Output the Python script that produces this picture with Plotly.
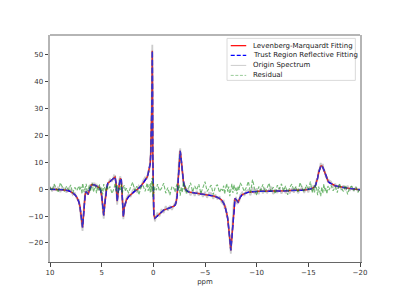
import plotly.graph_objects as go

# chemical shift (ppm), descending
ppm = [
    10.0, 9.8, 9.6, 9.4, 9.2, 9.0, 8.8, 8.6, 8.4, 8.2, 8.0, 7.8, 7.6, 7.4,
    7.2, 7.1, 7.0, 6.9, 6.85, 6.8, 6.7, 6.6, 6.5, 6.4,
    6.3, 6.2, 6.1, 6.0, 5.9, 5.8, 5.7, 5.6, 5.5, 5.4, 5.3, 5.2, 5.1, 5.0, 4.9, 4.8, 4.7, 4.6, 4.5, 4.4,
    4.2, 4.0, 3.8, 3.7, 3.6, 3.5, 3.4, 3.3, 3.2, 3.1, 3.0, 2.9, 2.8, 2.7, 2.6,
    2.4, 2.2, 2.0, 1.8, 1.6, 1.4, 1.2, 1.0, 0.8, 0.6,
    0.5, 0.4, 0.3, 0.25, 0.2, 0.15, 0.12, 0.1, 0.08, 0.05, 0.02, -0.05, -0.15, -0.3,
    -0.4, -0.6, -0.8, -1.0, -1.2, -1.4, -1.6, -1.8, -2.0,
    -2.1, -2.2, -2.3, -2.4, -2.5, -2.6, -2.7, -2.8, -2.9, -3.0, -3.1, -3.2,
    -3.4, -3.6, -3.8, -4.0, -4.2, -4.4, -4.6, -4.8, -5.0, -5.2, -5.4, -5.6, -5.8, -6.0, -6.2, -6.4, -6.6,
    -6.7, -6.8, -6.9, -7.0, -7.1, -7.2, -7.3, -7.4, -7.5, -7.6, -7.7, -7.8, -7.9, -8.0, -8.1, -8.2, -8.3, -8.4,
    -8.6, -8.8, -9.0, -9.2, -9.4, -9.6, -9.8, -10.0, -10.2, -10.4, -10.6, -10.8, -11.0, -11.2, -11.4, -11.6, -11.8,
    -12.0, -12.2, -12.4, -12.6, -12.8, -13.0, -13.2, -13.4, -13.6, -13.8, -14.0, -14.2, -14.4, -14.6, -14.8, -15.0, -15.2, -15.4,
    -15.5, -15.6, -15.7, -15.8, -15.9, -16.0, -16.1, -16.2, -16.3, -16.4, -16.5, -16.6, -16.7, -16.8, -16.9, -17.0,
    -17.2, -17.4, -17.6, -17.8, -18.0, -18.2, -18.4, -18.6, -18.8, -19.0, -19.2, -19.4, -19.6, -19.8, -20.0,
]

lm_fit = [
    0.0, 0.0, -0.1, -0.1, -0.1, -0.2, -0.2, -0.3, -0.4, -0.6, -0.9, -1.3, -2.0, -3.0,
    -4.8, -6.5, -9.0, -12.5, -14.2, -12.0, -5.0, -2.0, -0.9, -1.3,
    -1.9, -0.5, 1.0, 1.6, 1.7, 1.7, 1.6, 1.4, 1.2, 1.0, 0.7, 0.4, -0.5, -2.5, -6.0, -9.8, -5.5, -1.5, 0.8, 2.2,
    3.0, 3.5, 4.2, 4.5, 2.0, -4.5, -1.0, 2.5, 4.0, 3.5, -2.0, -10.2, -6.5, -4.8, -4.0,
    -2.8, -2.0, -1.3, -0.7, -0.3, 0.4, 1.2, 2.2, 3.2, 4.5,
    5.8, 7.2, 9.5, 13.0, 19.0, 30.0, 42.0, 51.5, 38.0, 12.0, -4.0, -9.5, -10.8, -10.3,
    -9.8, -9.0, -8.3, -7.8, -7.5, -7.2, -7.0, -6.8, -6.3,
    -5.9, -5.0, -2.5, 3.5, 11.0, 14.3, 11.0, 6.5, 3.2, 1.2, 0.0, -0.5,
    -1.0, -1.2, -1.3, -1.4, -1.5, -1.6, -1.7, -1.8, -1.9, -2.0, -2.1, -2.3, -2.5, -2.7, -3.0, -3.4, -4.0,
    -4.5, -5.2, -6.0, -7.2, -8.9, -11.0, -14.0, -18.5, -22.8, -18.0, -10.5, -5.5, -3.5, -3.8, -4.5, -4.8, -4.0, -3.0,
    -2.0, -1.6, -1.3, -1.1, -1.0, -0.9, -0.9, -0.8, -0.8, -0.8, -0.8, -0.7, -0.7, -0.7, -0.7, -0.7, -0.7,
    -0.6, -0.6, -0.6, -0.6, -0.6, -0.6, -0.5, -0.5, -0.5, -0.5, -0.4, -0.4, -0.3, -0.3, -0.2, -0.1, 0.1, 0.4,
    0.6, 0.9, 1.5, 2.6, 4.2, 6.2, 7.8, 8.6, 8.7, 8.2, 7.2, 6.0, 4.9, 3.9, 3.1, 2.5,
    2.0, 1.6, 1.3, 1.1, 0.9, 0.7, 0.6, 0.5, 0.4, 0.3, 0.2, 0.1, 0.0, -0.1, -0.2,
]

trf_fit = list(lm_fit)

origin = [
    1.0, -0.8, 1.5, -0.6, 0.9, -1.1, 0.6, 0.2, -1.3, 0.4, -0.2, -2.1, -1.2, -3.6,
    -4.0, -7.3, -8.2, -13.6, -15.5, -10.8, -5.9, -1.2, 0.2, -2.1,
    -1.0, -1.3, 1.8, 0.9, 2.5, 1.0, 2.4, 0.7, 2.0, 0.3, 1.5, -0.4, 0.4, -3.2, -5.1, -11.0, -4.6, -2.3, 1.6, 1.4,
    3.9, 2.8, 5.2, 5.0, 1.1, -5.8, -0.3, 3.5, 4.8, 2.6, -3.1, -11.2, -5.6, -5.7, -3.3,
    -1.9, -2.9, -0.5, 0.4, -1.2, 1.3, 0.6, 3.1, 4.4, 3.8,
    6.6, 6.3, 10.6, 14.2, 20.5, 32.0, 44.5, 53.8, 40.0, 14.5, -6.0, -8.4, -12.0, -9.6,
    -8.7, -10.1, -7.4, -8.9, -6.3, -8.0, -6.2, -7.7, -5.4,
    -5.0, -5.8, -1.6, 4.7, 12.2, 15.2, 10.1, 7.4, 2.5, 2.0, -0.9, 0.3,
    -0.2, -2.3, -0.4, -2.5, -0.6, -2.4, -0.8, -2.9, -1.0, -3.2, -1.3, -1.5, -3.6, -1.9, -3.8, -2.6, -4.9,
    -5.3, -4.0, -7.1, -6.4, -9.9, -10.2, -15.1, -17.6, -24.0, -16.8, -11.6, -4.3, -4.4, -2.9, -5.6, -3.9, -4.9, -2.2,
    -1.2, -2.5, -0.6, -0.2, -2.3, 0.8, -1.8, 0.3, -1.9, 0.5, -1.6, 0.4, -1.5, -0.1, 0.6, -1.8, -0.3,
    -1.4, 0.5, -1.7, 0.2, -1.5, -0.1, -1.6, 0.4, -1.3, 0.6, -1.5, -0.2, 0.7, -1.4, 0.5, -1.2, 0.9, -0.5,
    1.5, 0.0, 2.3, 3.5, 3.6, 7.1, 7.6, 9.8, 8.1, 9.4, 6.5, 6.9, 4.2, 4.8, 2.4, 3.3,
    2.8, 0.7, 2.1, 0.2, 1.8, -0.3, 1.4, -0.4, 1.3, -0.6, 1.0, -0.7, 0.9, -0.8, 0.4,
]

residual = [
    0.8, -0.6, 1.9, 0.3, -1.2, 2.4, 0.5, -0.9, 1.1, -0.3, 1.6, -1.4, 0.7, -0.5,
    1.2, -0.4, 0.9, -1.8, 2.2, 1.5, -1.1, 0.6, 2.0, -0.7,
    -0.3, 1.4, -0.8, 0.5, 2.1, -1.0, 0.2, 1.3, -1.5, 0.9, -0.4, 1.8, -1.2, 0.6, -2.0, 1.9, 0.4, -0.9, 1.2, -0.2,
    1.0, -1.6, 0.3, 2.3, -0.8, 1.7, -1.3, 0.5, -0.6, 2.0, -1.7, 0.9, 1.4, -0.9, 0.4,
    -1.4, 0.8, 2.6, -0.5, 1.1, -2.1, 0.7, 1.5, -0.8, 2.3,
    -0.6, 1.8, -1.2, 2.5, -0.9, 3.8, -2.5, 1.5, 4.2, -3.0, 2.1, -1.6, 0.8, -0.4,
    1.9, -0.7, 0.4, 2.2, -1.5, 0.6, -2.2, 1.0, 0.3,
    -1.1, 0.9, 2.0, -0.6, 1.6, -2.4, 0.8, -1.3, 2.7, -0.2, 1.4, -1.9,
    0.5, 2.4, -0.9, 1.2, -0.3, 1.9, -1.6, 0.7, 2.8, -0.8, 0.2, 1.5, -2.0, 0.9, 1.7, -1.2, 0.4,
    -0.6, 1.3, -1.8, 0.4, 2.1, -0.9, 1.0, -2.6, 0.6, 2.0, -1.4, 1.7, -0.5, 0.9, -1.9, 1.2, -0.3, 2.4,
    1.1, -0.8, 0.6, 2.9, -1.4, 3.6, 0.2, -2.3, 1.0, -0.5, 1.8, -1.1, 0.4, 2.2, -0.9, 0.8, -1.7,
    1.5, 0.1, 2.0, -0.6, 1.2, -2.1, 0.7, 1.9, -0.4, 1.0, -1.3, 2.5, 0.3, -0.9, 1.6, -0.2, 2.8, -1.5,
    0.9, -1.2, 1.6, 0.3, -2.2, 1.0, -0.4, -2.6, 0.8, -1.5, 1.9, -0.7, 0.5, -1.8, 1.2, -0.3,
    1.4, -0.6, 0.9, -1.3, 2.0, 0.2, -0.8, 1.5, -1.9, 0.6, 1.1, -0.5, 0.8, -1.2, 0.3,
]

series_names = ["Levenberg-Marquardt Fitting", "Trust Region Reflective Fitting",
                "Origin Spectrum", "Residual"]
x_ticks = [10, 5, 0, -5, -10, -15, -20]
y_ticks = [-20, -10, 0, 10, 20, 30, 40, 50]

FONT = "DejaVu Sans"
styles = [
    dict(color="#ff0000", width=1.5, dash="solid"),
    dict(color="#0000ff", width=1.5, dash="5.5px,2.4px"),
    dict(color="rgba(128,128,128,0.4)", width=1.8, dash="solid"),
    dict(color="rgba(0,128,0,0.55)", width=1.1, dash="3.7px,1.6px"),
]
legend_styles = [
    dict(color="#ff0000", width=1.2, dash="solid"),
    dict(color="#0000ff", width=1.2, dash="4px,2px"),
    dict(color="rgba(128,128,128,0.5)", width=0.8, dash="solid"),
    dict(color="rgba(0,128,0,0.5)", width=0.8, dash="3px,1.6px"),
]

fig = go.Figure()
for name, ys, st in zip(series_names, [lm_fit, trf_fit, origin, residual], styles):
    fig.add_trace(go.Scatter(x=ppm, y=ys, mode="lines", name=name, line=st,
                             showlegend=False))

axis_common = dict(showgrid=False, zeroline=False, ticks="outside", ticklen=3.5,
                   tickwidth=0.8, tickcolor="#444",
                   tickfont=dict(family=FONT, size=7, color="#333"))
fig.update_xaxes(range=[10, -20], tickvals=x_ticks,
                 ticktext=[str(v).replace("-", "\u2212") for v in x_ticks],
                 showline=True, linecolor="#666", linewidth=1, mirror=False,
                 title=dict(text="ppm", font=dict(family=FONT, size=7, color="#333"), standoff=3),
                 **axis_common)
fig.update_yaxes(range=[-27.1, 57.4], tickvals=y_ticks,
                 ticktext=[str(v).replace("-", "\u2212") for v in y_ticks],
                 showline=True, linecolor="#b5b5b5", linewidth=2, mirror=True,
                 **axis_common)

shapes = [dict(type="line", xref="paper", yref="paper", x0=0, x1=1, y0=1, y1=1,
               line=dict(color="#b5b5b5", width=2))]
# legend box
shapes.append(dict(type="rect", xref="paper", yref="paper", x0=0.571, x1=0.985, y0=0.80, y1=0.985,
                   line=dict(color="#d0d0d0", width=0.8), fillcolor="rgba(255,255,255,0.85)"))
annotations = []
row_y = [0.953, 0.910, 0.866, 0.822]
for name, st, yy in zip(series_names, legend_styles, row_y):
    shapes.append(dict(type="line", xref="paper", yref="paper", x0=0.583, x1=0.633, y0=yy, y1=yy,
                       line=st))
    annotations.append(dict(xref="paper", yref="paper", x=0.648, y=yy, text=name, showarrow=False,
                            xanchor="left", yanchor="middle",
                            font=dict(family=FONT, size=7, color="#222")))

# page body has an 8px default margin, so the figure is sized to fit the window
fig.update_layout(width=392, height=292, margin=dict(l=42, r=40, t=27, b=38),
                  plot_bgcolor="white", paper_bgcolor="white", showlegend=False,
                  shapes=shapes, annotations=annotations,
                  font=dict(family=FONT, size=7, color="#333"))

fig.write_html("out.html")
